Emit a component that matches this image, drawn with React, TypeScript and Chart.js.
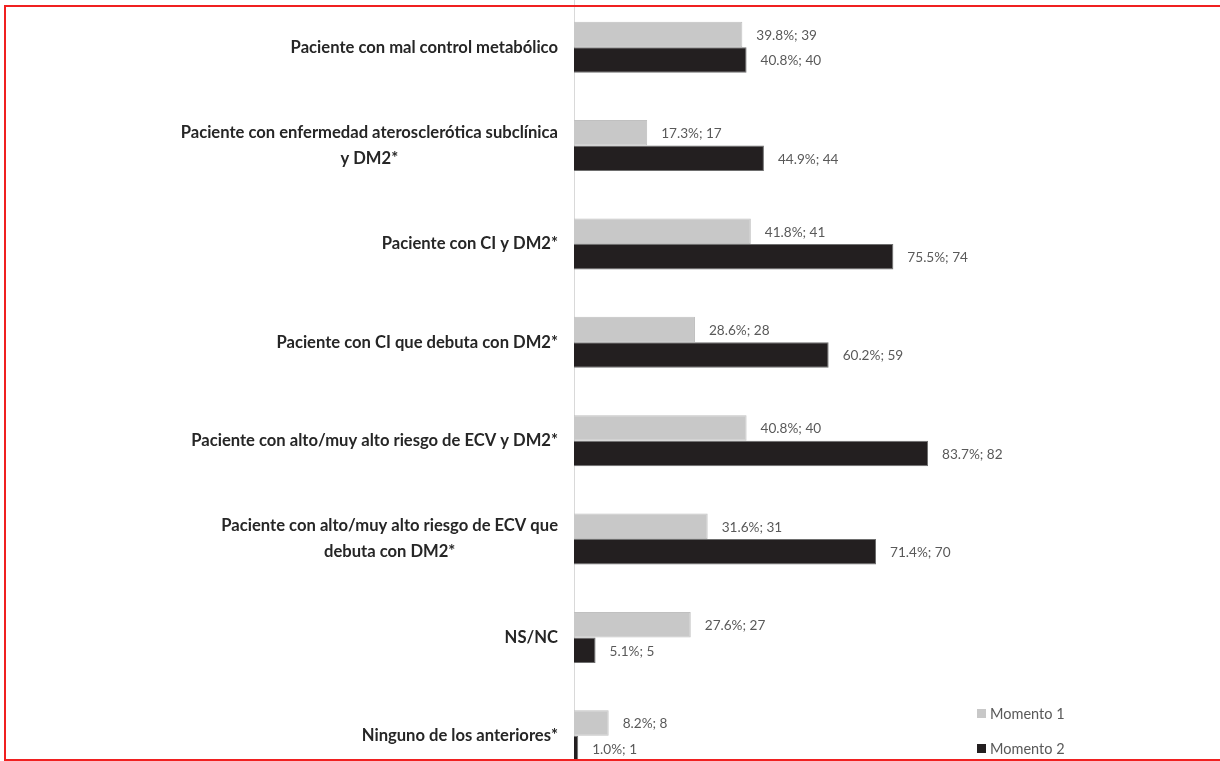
import React, { useEffect, useRef } from "react";
import { Chart, registerables } from "chart.js";

Chart.register(...registerables);

const categories: (string | string[])[] = [
  "Paciente con mal control metabólico",
  ["Paciente con enfermedad aterosclerótica subclínica", "y DM2*"],
  "Paciente con CI y DM2*",
  "Paciente con CI que debuta con DM2*",
  "Paciente con alto/muy alto riesgo de ECV y DM2*",
  ["Paciente con alto/muy alto riesgo de ECV que", "debuta con DM2*"],
  "NS/NC",
  "Ninguno de los anteriores*",
];

const momento1Pct = [39.8, 17.3, 41.8, 28.6, 40.8, 31.6, 27.6, 8.2];
const momento1N = [39, 17, 41, 28, 40, 31, 27, 8];
const momento2Pct = [40.8, 44.9, 75.5, 60.2, 83.7, 71.4, 5.1, 1.0];
const momento2N = [40, 44, 74, 59, 82, 70, 5, 1];

const seriesNames = ["Momento 1", "Momento 2"];
const seriesColors = ["#c8c8c8", "#231f20"];
const seriesBorders = ["#c0c0c0", "#6e6e6e"];
const seriesCounts = [momento1N, momento2N];

const CATEGORY_FONT = "bold 16.6px Lato";
const CATEGORY_LINE = 26;
const VALUE_FONT = "13.6px Lato";
const AXIS_X = 574;

// Category names on the left, right-aligned as a block, lines centred within it
const categoryLabels = {
  id: "categoryLabels",
  afterDraw(chart: any) {
    const ctx = chart.ctx;
    const y = chart.scales.y;
    ctx.save();
    ctx.font = CATEGORY_FONT;
    ctx.fillStyle = "#262626";
    ctx.textBaseline = "middle";
    ctx.textAlign = "center";
    (chart.data.labels as (string | string[])[]).forEach((lab, i) => {
      const lines = Array.isArray(lab) ? lab : [lab];
      const maxW = Math.max(...lines.map((l) => ctx.measureText(l).width));
      const cx = y.right - 16 - maxW / 2;
      const yc = y.getPixelForValue(i);
      lines.forEach((l, j) => {
        ctx.fillText(l, cx, yc + (j - (lines.length - 1) / 2) * CATEGORY_LINE);
      });
    });
    ctx.restore();
  },
};

// "pct%; n" labels just past the end of each bar
const valueLabels = {
  id: "valueLabels",
  afterDatasetsDraw(chart: any) {
    const ctx = chart.ctx;
    ctx.save();
    ctx.font = VALUE_FONT;
    ctx.fillStyle = "#595959";
    ctx.textBaseline = "middle";
    ctx.textAlign = "left";
    chart.data.datasets.forEach((ds: any, di: number) => {
      const meta = chart.getDatasetMeta(di);
      meta.data.forEach((el: any, i: number) => {
        const v = ds.data[i] as number;
        const txt = `${v.toFixed(1)}%; ${seriesCounts[di][i]}`;
        ctx.fillText(txt, el.x + 14, el.y + 1);
      });
    });
    ctx.restore();
  },
};

export default function App() {
  const canvasRef = useRef<HTMLCanvasElement>(null);

  useEffect(() => {
    if (!canvasRef.current) return;
    const chart = new Chart(canvasRef.current, {
      type: "bar",
      data: {
        labels: categories,
        datasets: [
          {
            label: seriesNames[0],
            data: momento1Pct,
            backgroundColor: seriesColors[0],
            borderColor: seriesBorders[0],
            borderWidth: 1,
            categoryPercentage: 0.518,
            barPercentage: 1,
          },
          {
            label: seriesNames[1],
            data: momento2Pct,
            backgroundColor: seriesColors[1],
            borderColor: seriesBorders[1],
            borderWidth: 1,
            categoryPercentage: 0.518,
            barPercentage: 1,
          },
        ],
      },
      options: {
        indexAxis: "y",
        responsive: false,
        animation: false,
        devicePixelRatio: 1,
        layout: { padding: { top: 1, bottom: 2, left: 0, right: 223 } },
        plugins: {
          legend: { display: false },
          tooltip: { enabled: false },
        },
        scales: {
          x: {
            display: false,
            min: 0,
            max: 100,
          },
          y: {
            type: "category",
            offset: true,
            grid: { display: false },
            border: { display: true, color: "#d9d9d9", width: 1 },
            ticks: { display: false },
            afterFit(scale: any) {
              scale.width = AXIS_X;
            },
          },
        },
      },
      plugins: [categoryLabels, valueLabels],
    });
    return () => chart.destroy();
  }, []);

  return (
    <div
      style={{
        position: "fixed",
        left: 0,
        top: 0,
        width: 1220,
        height: 761,
        overflow: "hidden",
        background: "#ffffff",
      }}
    >
      <canvas
        ref={canvasRef}
        width={1220}
        height={790}
        style={{ position: "absolute", left: 0, top: -3, width: 1220, height: 790 }}
      />
      {seriesNames.map((name, i) => (
        <div
          key={name}
          style={{
            position: "absolute",
            left: 977,
            top: 704 + i * 35,
            height: 19,
            display: "flex",
            alignItems: "center",
            fontFamily: "Lato",
            fontSize: 14.5,
            color: "#595959",
            whiteSpace: "nowrap",
          }}
        >
          <span
            style={{
              display: "inline-block",
              width: 9,
              height: 9,
              background: seriesColors[i],
              marginRight: 4,
            }}
          />
          {name}
        </div>
      ))}
      <div
        style={{
          position: "absolute",
          left: 4,
          top: 5,
          width: 1240,
          height: 752,
          border: "2px solid #f02020",
          boxSizing: "content-box",
          pointerEvents: "none",
        }}
      />
    </div>
  );
}
